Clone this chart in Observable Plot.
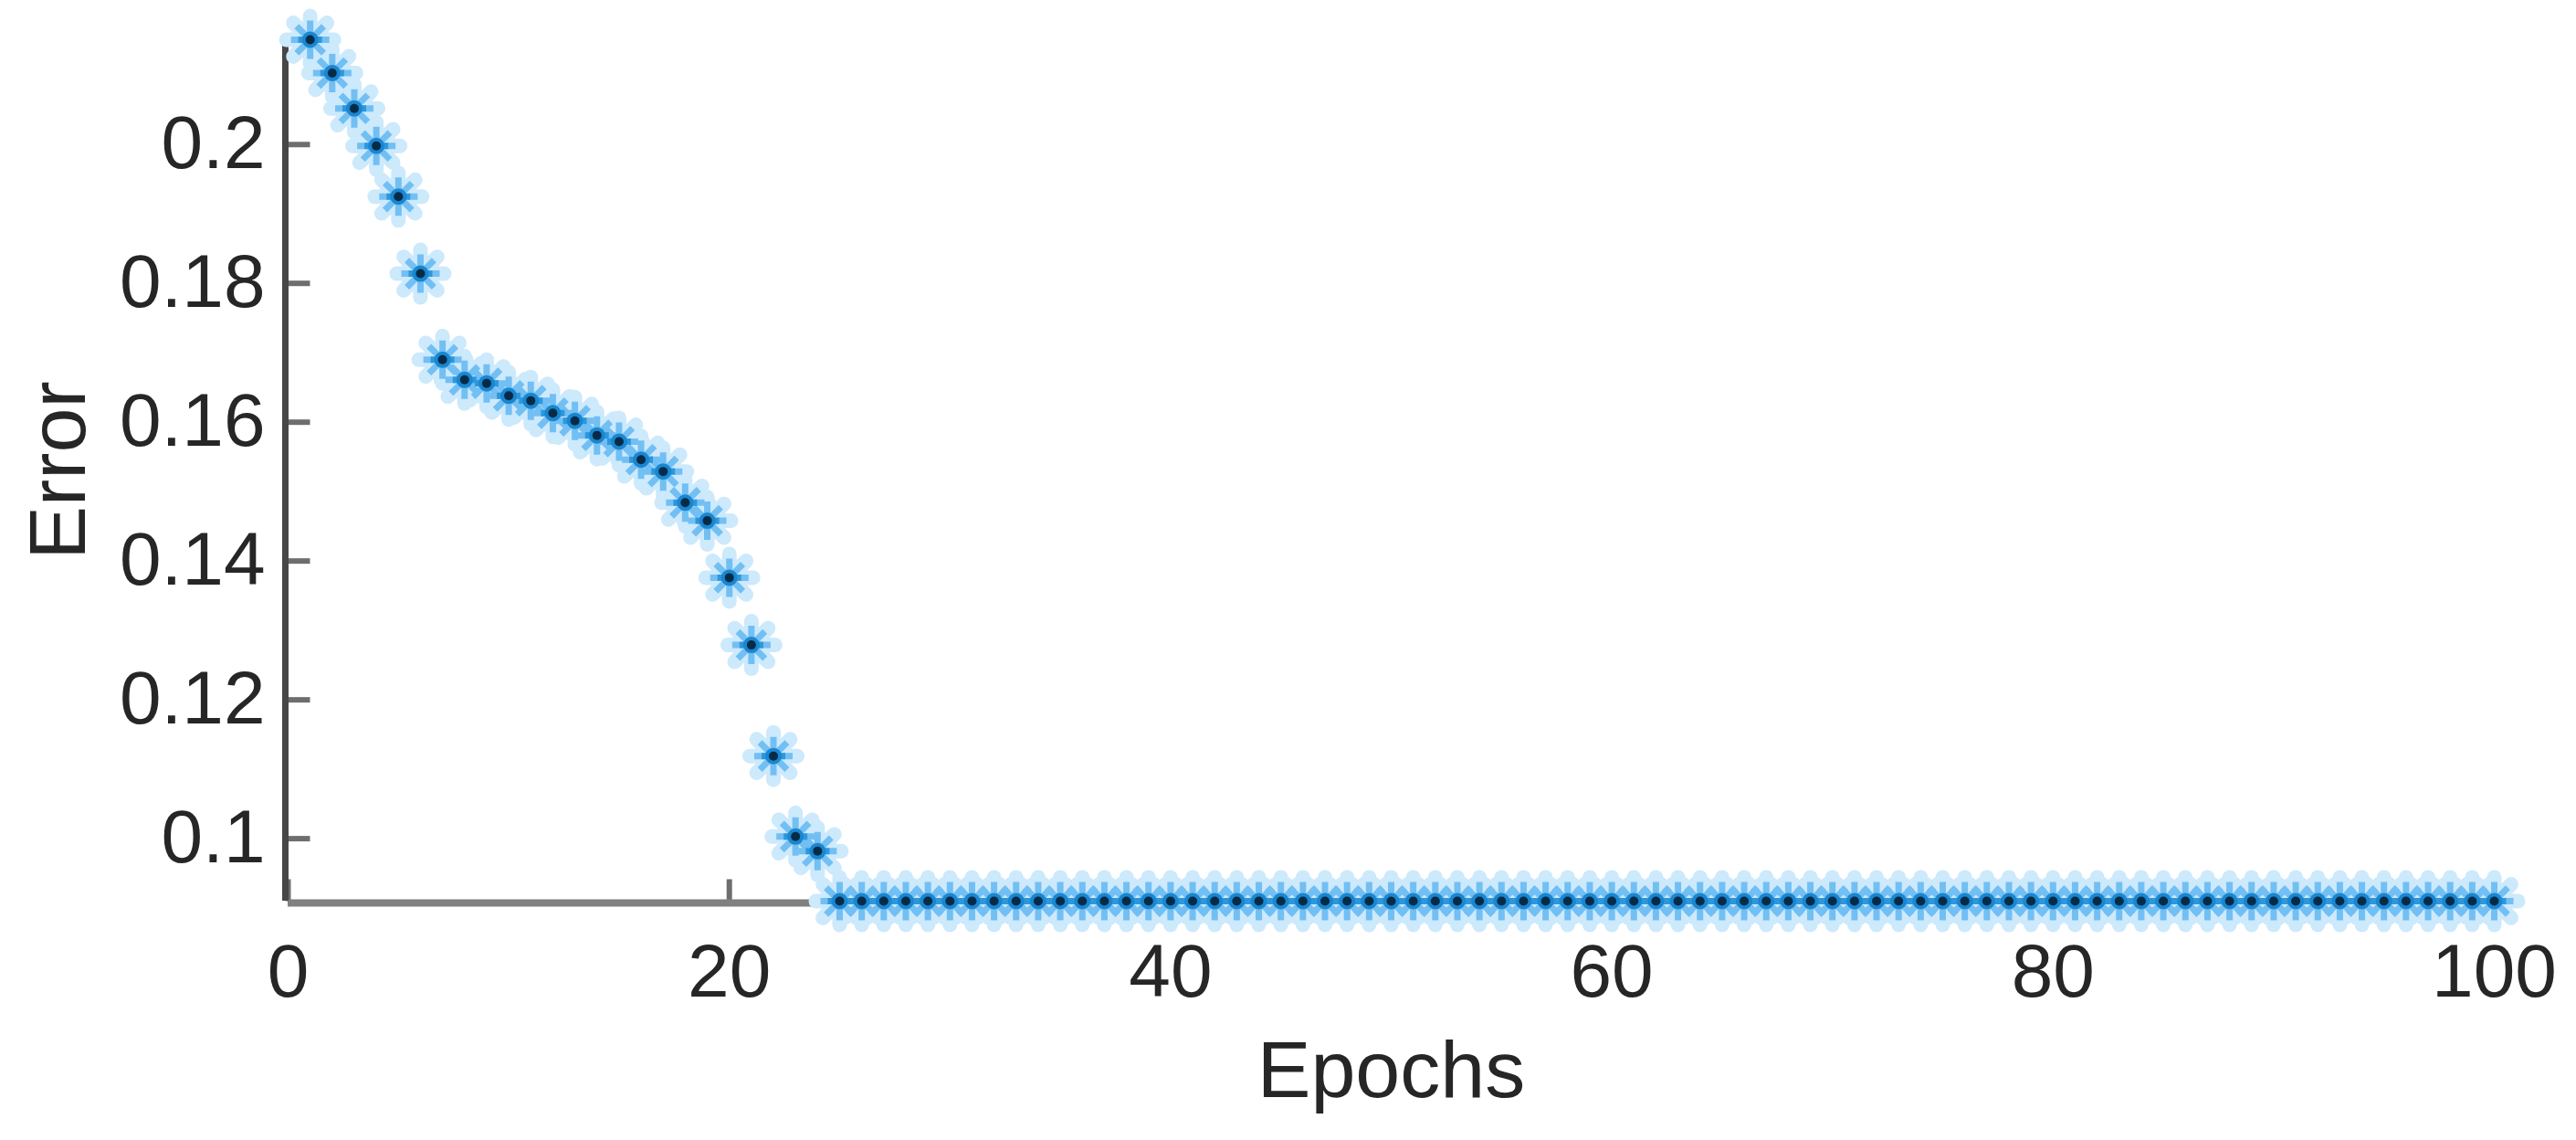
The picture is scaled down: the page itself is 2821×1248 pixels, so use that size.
<!DOCTYPE html>
<html>
<head>
<meta charset="utf-8">
<script src="https://cdn.jsdelivr.net/npm/d3@7"></script>
<script src="https://cdn.jsdelivr.net/npm/@observablehq/plot@0.6"></script>
<style>
  html, body { margin: 0; padding: 0; background: #ffffff; }
  #chart { width: 2821px; height: 1248px; }
</style>
</head>
<body>
<div id="chart"></div>
<script>
// ---- data ----
const epochs = [
  1, 2, 3, 4, 5, 6, 7, 8, 9, 10,
  11, 12, 13, 14, 15, 16, 17, 18, 19, 20,
  21, 22, 23, 24, 25, 26, 27, 28, 29, 30,
  31, 32, 33, 34, 35, 36, 37, 38, 39, 40,
  41, 42, 43, 44, 45, 46, 47, 48, 49, 50,
  51, 52, 53, 54, 55, 56, 57, 58, 59, 60,
  61, 62, 63, 64, 65, 66, 67, 68, 69, 70,
  71, 72, 73, 74, 75, 76, 77, 78, 79, 80,
  81, 82, 83, 84, 85, 86, 87, 88, 89, 90,
  91, 92, 93, 94, 95, 96, 97, 98, 99, 100
];
const errors = [
  0.2151, 0.2103, 0.2052, 0.1998, 0.1925, 0.1814, 0.1690, 0.1661, 0.1656, 0.1638,
  0.1631, 0.1613, 0.1602, 0.1581, 0.1572, 0.1546, 0.1529, 0.1484, 0.1458, 0.1376,
  0.1279, 0.1119, 0.1003, 0.0982, 0.0910, 0.0910, 0.0910, 0.0910, 0.0910, 0.0910,
  0.0910, 0.0910, 0.0910, 0.0910, 0.0910, 0.0910, 0.0910, 0.0910, 0.0910, 0.0910,
  0.0910, 0.0910, 0.0910, 0.0910, 0.0910, 0.0910, 0.0910, 0.0910, 0.0910, 0.0910,
  0.0910, 0.0910, 0.0910, 0.0910, 0.0910, 0.0910, 0.0910, 0.0910, 0.0910, 0.0910,
  0.0910, 0.0910, 0.0910, 0.0910, 0.0910, 0.0910, 0.0910, 0.0910, 0.0910, 0.0910,
  0.0910, 0.0910, 0.0910, 0.0910, 0.0910, 0.0910, 0.0910, 0.0910, 0.0910, 0.0910,
  0.0910, 0.0910, 0.0910, 0.0910, 0.0910, 0.0910, 0.0910, 0.0910, 0.0910, 0.0910,
  0.0910, 0.0910, 0.0910, 0.0910, 0.0910, 0.0910, 0.0910, 0.0910, 0.0910, 0.0910
];
const xTicks = [0, 20, 40, 60, 80, 100];
const yTicks = [0.1, 0.12, 0.14, 0.16, 0.18, 0.2];
const xDomain = [0, 100];
const yDomain = [0.091, 0.2151];
const xLabel = "Epochs";
const yLabel = "Error";

// ---- table for Plot ----
const data = epochs.map((e, i) => ({epoch: e, error: errors[i]}));

// MATLAB-style eight-armed asterisk marker
const star8 = {
  draw(ctx, size) {
    const r = Math.sqrt(size / Math.PI);
    const d = r / Math.SQRT2;
    ctx.moveTo(-r, 0); ctx.lineTo(r, 0);
    ctx.moveTo(0, -r); ctx.lineTo(0, r);
    ctx.moveTo(-d, -d); ctx.lineTo(d, d);
    ctx.moveTo(-d, d); ctx.lineTo(d, -d);
  }
};
// horizontal arm only (darker centre line of the marker)
const hbar = {
  draw(ctx, size) {
    const r = Math.sqrt(size / Math.PI);
    ctx.moveTo(-r, 0); ctx.lineTo(r, 0);
  }
};
// inward tick glyphs
const tickRight = { draw(ctx) { ctx.moveTo(0, 0); ctx.lineTo(27, 0); } };
const tickUp = { draw(ctx) { ctx.moveTo(0, 0); ctx.lineTo(0, -24); } };

const textColor = "#262626";

const chart = Plot.plot({
  width: 2821,
  height: 1248,
  marginLeft: 315,
  marginRight: 90,
  marginTop: 43,
  marginBottom: 262,
  style: {
    fontFamily: "'Liberation Sans', Arial, Helvetica, sans-serif",
    background: "#ffffff",
    color: textColor,
    overflow: "visible"
  },
  x: {domain: xDomain},
  y: {domain: yDomain},
  marks: [
    // tick labels
    Plot.axisX(xTicks, {tickSize: 0, tickPadding: 46, fontSize: 82, label: null, tickFormat: d => String(d)}),
    Plot.axisY(yTicks, {tickSize: 0, tickPadding: 25, fontSize: 82, label: null, tickFormat: d => String(d)}),
    // axis titles
    Plot.text([xLabel], {frameAnchor: "bottom", text: d => d, dy: 152, lineAnchor: "top", textAnchor: "middle", fontSize: 88, fill: textColor}),
    Plot.text([yLabel], {frameAnchor: "left", text: d => d, rotate: -90, dx: -285, lineAnchor: "top", textAnchor: "middle", fontSize: 88, fill: textColor}),
    // inward ticks
    Plot.dot(yTicks, {x: xDomain[0], y: d => d, symbol: tickRight, r: 10, fill: "none", stroke: "#6e6e6e", strokeWidth: 6, dx: -3}),
    Plot.dot(xTicks, {x: d => d, y: yDomain[0], symbol: tickUp, r: 10, fill: "none", stroke: "#6e6e6e", strokeWidth: 6}),
    // axis lines
    Plot.ruleY([yDomain[0]], {stroke: "#808080", strokeWidth: 8, dy: 2}),
    Plot.ruleX([xDomain[0]], {stroke: "#474747", strokeWidth: 7, dx: -3}),
    // markers: blurred light-blue asterisk with a dark centre
    Plot.dot(data, {x: "epoch", y: "error", symbol: star8, r: 26, fill: "none", stroke: "#cde9fc", strokeWidth: 16, strokeLinecap: "round"}),
    Plot.dot(data, {x: "epoch", y: "error", symbol: star8, r: 21, fill: "none", stroke: "#72bff3", strokeWidth: 7}),
    Plot.dot(data, {x: "epoch", y: "error", symbol: hbar, r: 13, fill: "none", stroke: "#2d97dc", strokeWidth: 7}),
    Plot.dot(data, {x: "epoch", y: "error", r: 9, fill: "#1a86cf", stroke: "none"}),
    Plot.dot(data, {x: "epoch", y: "error", r: 5, fill: "#052b47", stroke: "none"})
  ]
});

document.getElementById("chart").appendChild(chart);
</script>
</body>
</html>
